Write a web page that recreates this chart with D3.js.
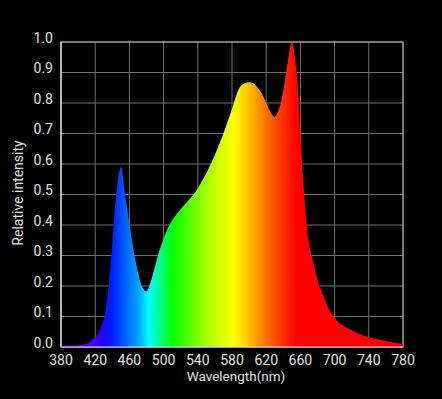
<!DOCTYPE html>
<html>
<head>
<meta charset="utf-8">
<script src="https://cdn.jsdelivr.net/npm/d3@7"></script>
<style>
  body { margin: 0; background: #000; }
  text { font-family: Roboto, "Noto Sans", sans-serif; fill: #e0e0e0; }
</style>
</head>
<body>
<div id="container"></div>
<script>
// spectrum samples
const wavelengths = [
  380, 385, 390, 395, 400, 405, 410, 415, 420, 425, 430, 435, 440, 445, 450,
  455, 460, 465, 470, 475, 480, 485, 490, 495, 500, 505, 510, 515, 520, 525,
  530, 535, 540, 545, 550, 555, 560, 565, 570, 575, 580, 585, 590, 595, 600,
  605, 610, 615, 620, 625, 630, 635, 640, 645, 650, 655, 660, 665, 670, 675,
  680, 685, 690, 695, 700, 705, 710, 715, 720, 730, 740, 750, 760, 770, 780
];
const intensity = [
  0.005, 0.005, 0.005, 0.005, 0.005, 0.007, 0.01, 0.018, 0.03, 0.05, 0.09, 0.18, 0.34, 0.51, 0.59,
  0.50, 0.405, 0.315, 0.245, 0.197, 0.183, 0.215, 0.265, 0.315, 0.355, 0.39, 0.415, 0.435, 0.452, 0.468,
  0.484, 0.50, 0.52, 0.545, 0.57, 0.60, 0.63, 0.665, 0.70, 0.74, 0.78, 0.825, 0.855, 0.865, 0.868,
  0.865, 0.85, 0.83, 0.80, 0.77, 0.755, 0.78, 0.84, 0.93, 1.0, 0.92, 0.70, 0.48, 0.34, 0.28,
  0.22, 0.18, 0.145, 0.115, 0.095, 0.08, 0.07, 0.062, 0.055, 0.042, 0.032, 0.026, 0.02, 0.014, 0.01
];
const xTicks = [380, 420, 460, 500, 540, 580, 620, 660, 700, 740, 780];
const yTicks = [0, 0.1, 0.2, 0.3, 0.4, 0.5, 0.6, 0.7, 0.8, 0.9, 1.0];
// colour of each wavelength along the fill
const colorStops = [
  [380, "#6a00a8"], [410, "#5a00ff"], [428, "#2a00ff"], [440, "#0020ff"],
  [455, "#0060ff"], [470, "#00a0ff"], [483, "#00ffff"], [498, "#00ff70"],
  [510, "#00ff00"], [540, "#80ff00"], [565, "#d0ff00"], [582, "#ffff00"],
  [600, "#ffc000"], [620, "#ff7000"], [640, "#ff3000"], [655, "#ff0000"],
  [780, "#ff0000"]
];

const data = wavelengths.map((w, i) => ({ w: w, v: intensity[i] }));

const margin = {top: 42, right: 39, bottom: 52, left: 61};
const width = 442 - margin.left - margin.right;
const height = 399 - margin.top - margin.bottom;

const root = d3.select("#container")
  .append("svg")
  .attr("width", 442)
  .attr("height", 399)
  .style("background", "#000");

const svg = root.append("g")
  .attr("transform", "translate(" + margin.left + "," + margin.top + ")");

const x = d3.scaleLinear().domain([380, 780]).range([0, width]);
const y = d3.scaleLinear().domain([0, 1]).range([height, 0]);

const grad = root.append("defs").append("linearGradient")
  .attr("id", "spec")
  .attr("gradientUnits", "userSpaceOnUse")
  .attr("x1", 0).attr("x2", width).attr("y1", 0).attr("y2", 0);
grad.selectAll("stop")
  .data(colorStops)
  .enter()
  .append("stop")
  .attr("offset", d => (d[0] - 380) / 400)
  .attr("stop-color", d => d[1]);

// grid
svg.append("g")
  .selectAll("line")
  .data(xTicks)
  .enter()
  .append("line")
  .attr("x1", d => x(d)).attr("x2", d => x(d))
  .attr("y1", 0).attr("y2", height)
  .attr("stroke", "#6e6e6e")
  .attr("stroke-width", 1);

svg.append("g")
  .selectAll("line")
  .data(yTicks)
  .enter()
  .append("line")
  .attr("x1", 0).attr("x2", width)
  .attr("y1", d => y(d)).attr("y2", d => y(d))
  .attr("stroke", "#6e6e6e")
  .attr("stroke-width", 1);

// frame
svg.append("rect")
  .attr("width", width)
  .attr("height", height)
  .attr("fill", "none")
  .attr("stroke", "#bdbdbd")
  .attr("stroke-width", 1);

const area = d3.area()
  .x(d => x(d.w))
  .y0(y(0))
  .y1(d => y(d.v))
  .curve(d3.curveCatmullRom.alpha(0.5));

svg.append("path")
  .datum(data)
  .attr("d", area)
  .attr("fill", "url(#spec)");

// axis lines
svg.append("line")
  .attr("x1", 0).attr("x2", 0).attr("y1", 0).attr("y2", height)
  .attr("stroke", "#f0f0f0");
svg.append("line")
  .attr("x1", 0).attr("x2", width).attr("y1", height).attr("y2", height)
  .attr("stroke", "#d8d0e8");

// tick labels
svg.append("g")
  .selectAll("text")
  .data(yTicks)
  .enter()
  .append("text")
  .attr("x", -8)
  .attr("y", d => y(d) - 4)
  .attr("dy", "0.35em")
  .attr("text-anchor", "end")
  .style("font-size", "14px")
  .text(d => d.toFixed(1));

svg.append("g")
  .selectAll("text")
  .data(xTicks)
  .enter()
  .append("text")
  .attr("x", d => x(d))
  .attr("y", height + 13)
  .attr("dy", "0.35em")
  .attr("text-anchor", "middle")
  .style("font-size", "14px")
  .text(d => d);

root.append("text")
  .attr("x", 236)
  .attr("y", 376)
  .attr("dy", "0.35em")
  .attr("text-anchor", "middle")
  .style("font-size", "13.5px")
  .text("Wavelength(nm)");

root.append("text")
  .attr("transform", "translate(18,193) rotate(-90)")
  .attr("dy", "0.35em")
  .attr("text-anchor", "middle")
  .style("font-size", "14px")
  .text("Relative intensity");
</script>
</body>
</html>
